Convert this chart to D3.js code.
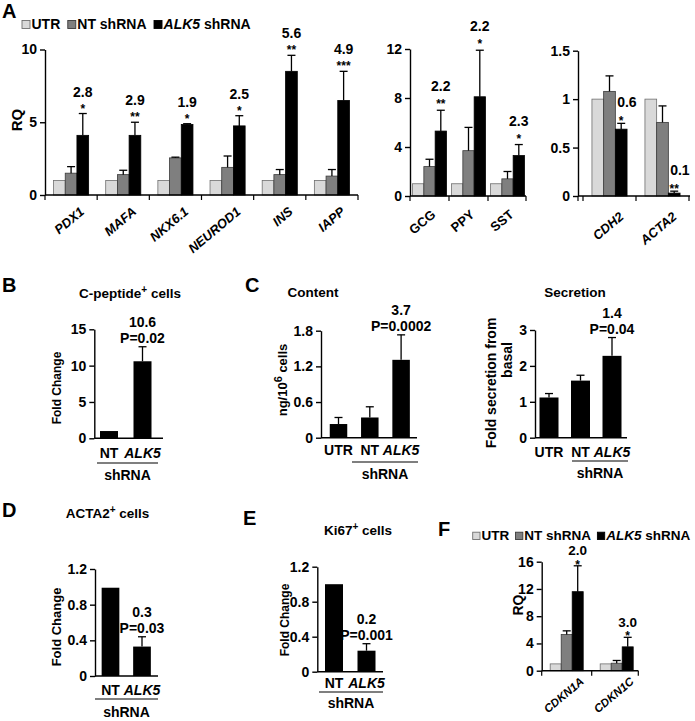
<!DOCTYPE html>
<html><head><meta charset="utf-8">
<script src="https://cdn.jsdelivr.net/npm/d3@7"></script>
<style>
body{margin:0;background:#fff}
svg{display:block}
text{font-family:"Liberation Sans",Arial,sans-serif;fill:#000}
</style>
</head><body>
<svg id="c" width="695" height="721"></svg>
<script>
// ---------------- DATA ----------------
const seriesKeys = ["UTR", "NT", "ALK5"];

// Panel A (left)
const genesA1 = ["PDX1", "MAFA", "NKX6.1", "NEUROD1", "INS", "IAPP"];
const utrA1 = [1, 1, 1, 1, 1, 1];
const ntA1 = [1.5, 1.4, 2.55, 1.9, 1.4, 1.3];
const ntErrA1 = [0.45, 0.3, 0.05, 0.78, 0.35, 0.45];
const alkA1 = [4.1, 4.1, 4.85, 4.75, 8.5, 6.5];
const alkErrA1 = [1.5, 0.9, 0.05, 0.7, 1.1, 2.0];
const foldA1 = ["2.8", "2.9", "1.9", "2.5", "5.6", "4.9"];
const sigA1 = ["*", "**", "*", "*", "**", "***"];
const ticksA1 = [0, 5, 10];

// Panel A (middle)
const genesA2 = ["GCG", "PPY", "SST"];
const utrA2 = [1, 1, 1];
const ntA2 = [2.4, 3.7, 1.4];
const ntErrA2 = [0.6, 1.9, 0.6];
const alkA2 = [5.3, 8.1, 3.3];
const alkErrA2 = [1.7, 3.8, 0.9];
const foldA2 = ["2.2", "2.2", "2.3"];
const sigA2 = ["**", "*", "*"];
const ticksA2 = [0, 4, 8, 12];

// Panel A (right)
const genesA3 = ["CDH2", "ACTA2"];
const utrA3 = [1, 1];
const ntA3 = [1.08, 0.76];
const ntErrA3 = [0.16, 0.17];
const alkA3 = [0.69, 0.03];
const alkErrA3 = [0.06, 0.02];
const foldA3 = ["0.6", "0.1"];
const sigA3 = ["*", "**"];
const ticksA3 = [0, 0.5, 1, 1.5];

// Panel B
const catsB = ["NT", "ALK5"];
const valsB = [1.0, 10.6];
const errB = [0, 2.0];
const foldB = [null, "10.6"];
const pB = [null, "P=0.02"];
const ticksB = [0, 5, 10, 15];

// Panel C content
const catsC = ["UTR", "NT", "ALK5"];
const valsC1 = [0.23, 0.34, 1.31];
const errC1 = [0.11, 0.18, 0.42];
const foldC1 = [null, null, "3.7"];
const pC1 = [null, null, "P=0.0002"];
const ticksC1 = [0, 0.6, 1.2, 1.8];

// Panel C secretion
const valsC2 = [1.12, 1.59, 2.28];
const errC2 = [0.11, 0.15, 0.51];
const foldC2 = [null, null, "1.4"];
const pC2 = [null, null, "P=0.04"];
const ticksC2 = [0, 1, 2, 3];

// Panel D
const catsD = ["NT", "ALK5"];
const valsD = [0.99, 0.33];
const errD = [0, 0.11];
const foldD = [null, "0.3"];
const pD = [null, "P=0.03"];
const ticksD = [0, 0.4, 0.8, 1.2];

// Panel E
const catsE = ["NT", "ALK5"];
const valsE = [1.0, 0.24];
const errE = [0, 0.08];
const foldE = [null, "0.2"];
const pE = [null, "P=0.001"];
const ticksE = [0, 0.4, 0.8, 1.2];

// Panel F
const genesF = ["CDKN1A", "CDKN1C"];
const utrF = [1, 1];
const ntF = [5.3, 1.1];
const ntErrF = [0.55, 0.4];
const alkF = [11.6, 3.5];
const alkErrF = [3.8, 1.4];
const foldF = ["2.0", "3.0"];
const sigF = ["*", "*"];
const ticksF = [0, 4, 8, 12, 16];

// ---------------- STYLE ----------------
const fillC = {UTR: "#d9d9d9", NT: "#7f7f7f", ALK5: "#000000"};
const strokeC = {UTR: "#6f6f6f", NT: "#3a3a3a", ALK5: "#000000"};
const svg = d3.select("#c");

function txt(g, x, y, s, o = {}) {
  const t = g.append("text").attr("x", x).attr("y", y)
    .attr("font-size", o.fs || 14).attr("font-weight", o.fw || "bold")
    .attr("text-anchor", o.anchor || "middle");
  if (o.italic) t.attr("font-style", "italic");
  if (s != null) t.text(s);
  return t;
}
function parts(t, arr) {
  arr.forEach(p => {
    const ts = t.append("tspan").text(p.t);
    if (p.i) ts.attr("font-style", "italic");
    if (p.sup) ts.attr("font-size", p.sup).attr("dy", -5);
    if (p.down) ts.attr("dy", 5);
  });
  return t;
}
function yAxis(g, y, x, ticks, fs) {
  const a = g.append("g").attr("transform", `translate(${x},0)`)
    .call(d3.axisLeft(y).tickValues(ticks).tickSize(5).tickSizeOuter(0).tickPadding(3).tickFormat(d => String(d)));
  a.attr("font-family", null).attr("font-size", null);
  a.selectAll("path,line").attr("stroke", "#000").attr("stroke-width", 1.4);
  a.selectAll("text").attr("font-size", fs).attr("font-weight", "bold");
  return a;
}
function errBar(g, cx, yv, ye) {
  g.append("line").attr("x1", cx).attr("x2", cx).attr("y1", yv).attr("y2", ye).attr("stroke", "#000").attr("stroke-width", 1.3);
  g.append("line").attr("x1", cx - 4).attr("x2", cx + 4).attr("y1", ye).attr("y2", ye).attr("stroke", "#000").attr("stroke-width", 1.3);
}

function grouped(c) {
  const g = svg.append("g");
  const y = d3.scaleLinear().domain([0, c.ymax]).range([c.y0, c.yTop]);
  const x = d3.scaleBand().domain(c.cats).range([c.gx0, c.gx1]);
  const bw = x.bandwidth();
  const xi = d3.scaleBand().domain(seriesKeys).range([(bw - 3 * c.barW) / 2, (bw + 3 * c.barW) / 2]);
  const rows = c.cats.map((cat, i) => ({cat, i, bars: [
    {s: "UTR", v: c.utr[i], e: 0},
    {s: "NT", v: c.nt[i], e: c.ntErr[i]},
    {s: "ALK5", v: c.alk[i], e: c.alkErr[i]}]}));
  rows.forEach(r => {
    const gx = x(r.cat);
    r.bars.forEach(b => {
      g.append("rect").attr("x", gx + xi(b.s)).attr("width", xi.bandwidth())
        .attr("y", y(b.v)).attr("height", c.y0 - y(b.v))
        .attr("fill", fillC[b.s]).attr("stroke", strokeC[b.s]).attr("stroke-width", 0.8);
      if (b.e > 0) errBar(g, gx + xi(b.s) + xi.bandwidth() / 2, y(b.v), y(b.v + b.e));
    });
    // annotation on ALK5 bar
    const b = r.bars[2];
    const cx = gx + xi("ALK5") + xi.bandwidth() / 2;
    const top = y(b.v + b.e);
    txt(g, cx + (c.numDx || 0), top + c.numOff, c.fold[r.i], {fs: c.annFs || 14, anchor: c.numAnchor || "middle"});
    txt(g, cx, top + c.starOff, c.sig[r.i], {fs: 12});
    // category label
    g.append("text").attr("transform", `translate(${gx + bw / 2 + c.lblDx},${c.y0 + c.lblDy}) rotate(-40)`)
      .attr("text-anchor", "end").attr("font-size", c.lblFs).attr("font-weight", "bold")
      .attr("font-style", c.italic ? "italic" : "normal").text(r.cat);
  });
  yAxis(g, y, c.ax0, c.ticks, c.fs);
  g.append("line").attr("x1", c.ax0).attr("x2", c.ax1).attr("y1", c.y0).attr("y2", c.y0).attr("stroke", "#000").attr("stroke-width", 1.4);
  const bounds = [c.ax0].concat(c.cats.map(k => x(k)).filter(v => v > c.ax0 + 1)).concat([Math.min(c.gx1, c.ax1)]);
  bounds.forEach(bx => g.append("line").attr("x1", bx).attr("x2", bx).attr("y1", c.y0).attr("y2", c.y0 + 5).attr("stroke", "#000").attr("stroke-width", 1.2));
  return g;
}

function simple(c) {
  const g = svg.append("g");
  const y = d3.scaleLinear().domain([0, c.ymax]).range([c.y0, c.yTop]);
  const n = c.cats.length;
  const x0 = c.firstCenter - c.step / 2;
  const x = d3.scaleBand().domain(c.cats).range([x0, x0 + n * c.step])
    .paddingInner(1 - c.barW / c.step).paddingOuter((1 - c.barW / c.step) / 2);
  c.cats.forEach((k, i) => {
    const v = c.vals[i], e = c.errs[i];
    const cx = x(k) + x.bandwidth() / 2;
    g.append("rect").attr("x", x(k)).attr("width", x.bandwidth()).attr("y", y(v)).attr("height", c.y0 - y(v)).attr("fill", "#000");
    if (e > 0) errBar(g, cx, y(v), y(v + e));
    const top = y(v + e);
    if (c.fold[i]) txt(g, cx, top - 20, c.fold[i], {fs: 14});
    if (c.p[i]) txt(g, cx, top - 4, c.p[i], {fs: 14});
    txt(g, cx, c.y0 + c.lblOff, k, {fs: 14, italic: k === "ALK5"});
  });
  yAxis(g, y, c.ax0, c.ticks, c.fs || 14);
  g.append("line").attr("x1", c.ax0).attr("x2", c.ax1).attr("y1", c.y0).attr("y2", c.y0).attr("stroke", "#000").attr("stroke-width", 1.4);
  if (c.sh) {
    g.append("line").attr("x1", c.sh[0]).attr("x2", c.sh[1]).attr("y1", c.sh[2]).attr("y2", c.sh[2]).attr("stroke", "#000").attr("stroke-width", 1.2);
    txt(g, (c.sh[0] + c.sh[1]) / 2, c.sh[3], "shRNA", {fs: 14});
  }
  return g;
}

function legend(x, y, fs, sq, gap) {
  const items = [
    {s: "UTR", p: [{t: "UTR"}]},
    {s: "NT", p: [{t: "NT shRNA"}]},
    {s: "ALK5", p: [{t: "ALK5", i: true}, {t: " shRNA"}]}];
  let cx = x;
  items.forEach(it => {
    svg.append("rect").attr("x", cx).attr("y", y - sq - 0.5).attr("width", sq).attr("height", sq)
      .attr("fill", fillC[it.s]).attr("stroke", strokeC[it.s]).attr("stroke-width", 0.9);
    cx += sq + 1.5;
    const t = txt(svg, cx, y, null, {fs, anchor: "start"});
    parts(t, it.p);
    cx += t.node().getComputedTextLength() + gap;
  });
}

// ---------------- PANEL A ----------------
txt(svg, 2, 18, "A", {fs: 20, anchor: "start"});
legend(22, 29, 14, 8, 7.5);
svg.append("text").attr("transform", "translate(22,120) rotate(-90)").attr("text-anchor", "middle")
  .attr("font-size", 15).attr("font-weight", "bold").text("RQ");

grouped({cats: genesA1, utr: utrA1, nt: ntA1, ntErr: ntErrA1, alk: alkA1, alkErr: alkErrA1, fold: foldA1, sig: sigA1,
  ymax: 10, y0: 195, yTop: 49.5, ax0: 45, ax1: 358, gx0: 45, gx1: 358, barW: 11.7, ticks: ticksA1, fs: 14,
  numOff: -17, starOff: -1, lblDx: 14, lblDy: 18, lblFs: 13, italic: true});

grouped({cats: genesA2, utr: utrA2, nt: ntA2, ntErr: ntErrA2, alk: alkA2, alkErr: alkErrA2, fold: foldA2, sig: sigA2,
  ymax: 12, y0: 196, yTop: 49, ax0: 410, ax1: 526, gx0: 410, gx1: 527, barW: 11.3, ticks: ticksA2, fs: 14,
  numOff: -19, starOff: -2, lblDx: 7, lblDy: 20, lblFs: 13, italic: false});

grouped({cats: genesA3, utr: utrA3, nt: ntA3, ntErr: ntErrA3, alk: alkA3, alkErr: alkErrA3, fold: foldA3, sig: sigA3,
  ymax: 1.5, y0: 196, yTop: 50.7, ax0: 578, ax1: 690, gx0: 583, gx1: 689, barW: 11.7, ticks: ticksA3, fs: 14,
  numOff: -16, numDx: -4, numAnchor: "start", starOff: 2, lblDx: 15, lblDy: 22, lblFs: 13, italic: true});

// ---------------- PANEL B ----------------
txt(svg, 2, 292, "B", {fs: 20, anchor: "start"});
parts(txt(svg, 130, 298, null, {fs: 13.5}), [{t: "C-peptide"}, {t: "+", sup: 10}, {t: " cells", down: true}]);
svg.append("text").attr("transform", "translate(61,388) rotate(-90)").attr("text-anchor", "middle")
  .attr("font-size", 12).attr("font-weight", "bold").text("Fold Change");
simple({cats: catsB, vals: valsB, errs: errB, fold: foldB, p: pB, ticks: ticksB,
  ymax: 15, y0: 438.3, yTop: 329.3, ax0: 94.3, ax1: 163, firstCenter: 109, step: 33.5, barW: 18,
  lblOff: 20, sh: [97, 158, 463, 480]});

// ---------------- PANEL C ----------------
txt(svg, 245, 292, "C", {fs: 20, anchor: "start"});
txt(svg, 313, 297, "Content", {fs: 13.5});
txt(svg, 575, 297, "Secretion", {fs: 13.5});
parts(svg.append("text").attr("transform", "translate(287,380) rotate(-90)").attr("text-anchor", "middle")
  .attr("font-size", 13).attr("font-weight", "bold"), [{t: "ng/10"}, {t: "6", sup: 11}, {t: " cells", down: true}]);
svg.append("text").attr("transform", "translate(496,383) rotate(-90)").attr("text-anchor", "middle")
  .attr("font-size", 14).attr("font-weight", "bold").text("Fold secretion from");
svg.append("text").attr("transform", "translate(512,360) rotate(-90)").attr("text-anchor", "middle")
  .attr("font-size", 14).attr("font-weight", "bold").text("basal");
simple({cats: catsC, vals: valsC1, errs: errC1, fold: foldC1, p: pC1, ticks: ticksC1,
  ymax: 1.8, y0: 437.7, yTop: 330.7, ax0: 321, ax1: 417, firstCenter: 338.5, step: 31.3, barW: 17.5,
  lblOff: 17, sh: [352, 418, 462, 479]});
simple({cats: catsC, vals: valsC2, errs: errC2, fold: foldC2, p: pC2, ticks: ticksC2,
  ymax: 3, y0: 437.7, yTop: 330, ax0: 535, ax1: 627, firstCenter: 549, step: 31.5, barW: 19,
  lblOff: 19, sh: [572, 628, 461, 478]});

// ---------------- PANEL D ----------------
txt(svg, 2, 517, "D", {fs: 20, anchor: "start"});
parts(txt(svg, 107.5, 518, null, {fs: 13.5}), [{t: "ACTA2"}, {t: "+", sup: 10}, {t: " cells", down: true}]);
svg.append("text").attr("transform", "translate(61,627) rotate(-90)").attr("text-anchor", "middle")
  .attr("font-size", 13).attr("font-weight", "bold").text("Fold Change");
simple({cats: catsD, vals: valsD, errs: errD, fold: foldD, p: pD, ticks: ticksD,
  ymax: 1.2, y0: 676, yTop: 569, ax0: 95, ax1: 158, firstCenter: 110.5, step: 31.5, barW: 17.7,
  lblOff: 19, sh: [95, 158, 699, 717]});

// ---------------- PANEL E ----------------
txt(svg, 243, 525, "E", {fs: 20, anchor: "start"});
parts(txt(svg, 358, 535, null, {fs: 13.5}), [{t: "Ki67"}, {t: "+", sup: 10}, {t: " cells", down: true}]);
svg.append("text").attr("transform", "translate(289,620) rotate(-90)").attr("text-anchor", "middle")
  .attr("font-size", 12).attr("font-weight", "bold").text("Fold Change");
simple({cats: catsE, vals: valsE, errs: errE, fold: foldE, p: pE, ticks: ticksE,
  ymax: 1.2, y0: 671.7, yTop: 566.7, ax0: 317.3, ax1: 383, firstCenter: 334, step: 32.5, barW: 18,
  lblOff: 16.5, sh: [319, 383, 692, 708]});

// ---------------- PANEL F ----------------
txt(svg, 438, 536, "F", {fs: 20, anchor: "start"});
legend(472.7, 540, 13.5, 7.3, 6.3);
svg.append("text").attr("transform", "translate(523,605) rotate(-90)").attr("text-anchor", "middle")
  .attr("font-size", 14).attr("font-weight", "bold").text("RQ");
grouped({cats: genesF, utr: utrF, nt: ntF, ntErr: ntErrF, alk: alkF, alkErr: alkErrF, fold: foldF, sig: sigF,
  ymax: 16, y0: 670.7, yTop: 561.7, ax0: 541.7, ax1: 638.3, gx0: 541.7, gx1: 641.7, barW: 11, ticks: ticksF, fs: 14,
  numOff: -10.5, starOff: 3, annFs: 13.5, lblDx: 18, lblDy: 12, lblFs: 11.5, italic: true});
</script>
</body></html>
